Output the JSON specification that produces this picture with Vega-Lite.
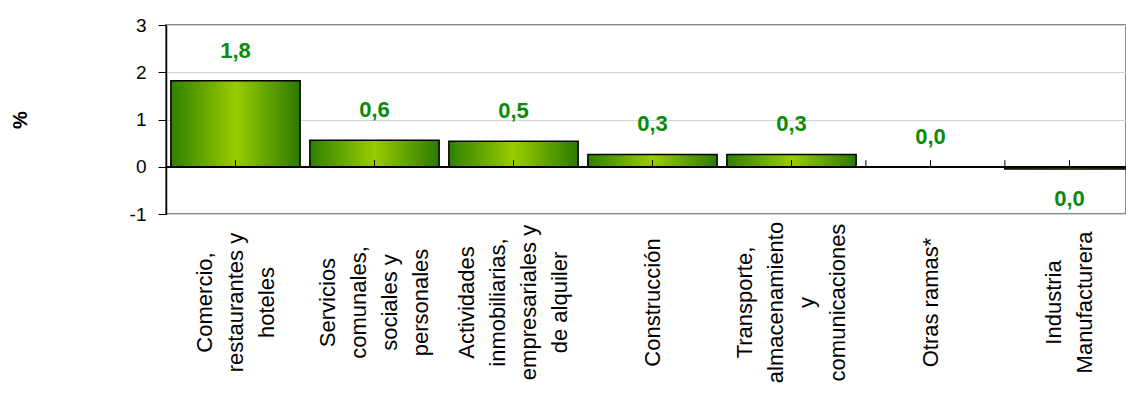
{
  "$schema": "https://vega.github.io/schema/vega-lite/v6.json",
  "width": 960,
  "height": 189,
  "autosize": {"type": "none"},
  "padding": {"left": 166, "top": 25, "right": 0, "bottom": 182},
  "background": "white",
  "config": {
    "font": "Liberation Sans",
    "view": {"stroke": "#888888", "strokeWidth": 2}
  },
  "data": {
    "values": [
      {"rama": "Comercio,\nrestaurantes y\nhoteles", "valor": 1.82, "etiqueta": "1,8"},
      {"rama": "Servicios\ncomunales,\nsociales y\npersonales", "valor": 0.56, "etiqueta": "0,6"},
      {"rama": "Actividades\ninmobiliarias,\nempresariales y\nde alquiler", "valor": 0.54, "etiqueta": "0,5"},
      {"rama": "Construcción", "valor": 0.26, "etiqueta": "0,3"},
      {"rama": "Transporte,\nalmacenamiento\ny\ncomunicaciones", "valor": 0.26, "etiqueta": "0,3"},
      {"rama": "Otras ramas*", "valor": 0, "etiqueta": "0,0"},
      {"rama": "Industria\nManufacturera", "valor": -0.05, "etiqueta": "0,0"}
    ]
  },
  "encoding": {
    "x": {
      "field": "rama",
      "type": "nominal",
      "sort": null,
      "scale": {"range": [0, 973], "paddingInner": 0.07, "paddingOuter": 0.035},
      "axis": {
        "title": null,
        "domain": false,
        "ticks": false,
        "tickSize": 0,
        "grid": false,
        "labelAngle": -90,
        "labelAlign": "center",
        "labelBaseline": "middle",
        "labelPadding": 88,
        "labelFontSize": 22,
        "labelColor": "black",
        "labelLineHeight": 31,
        "labelLimit": 400,
        "labelOverlap": false,
        "labelBound": false,
        "labelFlush": false,
        "labelOffset": {
          "condition": [
            {"test": "indexof(datum.value, 'Comercio') >= 0", "value": -31},
            {"test": "indexof(datum.value, 'Servicios') >= 0 || indexof(datum.value, 'Actividades') >= 0 || indexof(datum.value, 'Transporte') >= 0", "value": -46.5},
            {"test": "indexof(datum.value, 'Industria') >= 0", "value": -15.5}
          ],
          "value": 0
        },
        "labelExpr": "split(datum.label, '\\n')"
      }
    }
  },
  "layer": [
    {
      "mark": {
        "type": "bar",
        "stroke": "black",
        "strokeWidth": 1.5,
        "color": {
          "gradient": "linear",
          "x1": 0, "x2": 1, "y1": 0, "y2": 0,
          "stops": [
            {"offset": 0, "color": "#2f8000"},
            {"offset": 0.5, "color": "#99cc00"},
            {"offset": 1, "color": "#2a7a00"}
          ]
        }
      },
      "encoding": {
        "y": {
          "field": "valor",
          "type": "quantitative",
          "scale": {"domain": [-1, 3], "nice": false, "zero": false},
          "axis": {
            "title": "%",
            "titleFontSize": 20,
            "titleFontWeight": "bold",
            "titleColor": "black",
            "titleX": -136,
            "titleAngle": -90,
            "values": [-1, 0, 1, 2, 3],
            "labelExpr": "datum.value < 0 ? '-' + abs(datum.value) : datum.label",
            "labelFontSize": 19,
            "labelColor": "black",
            "labelPadding": 12,
            "tickSize": 8,
            "tickColor": "black",
            "domainColor": "black",
            "domainWidth": 1.5,
            "gridColor": "#d4d4d4",
            "gridWidth": 1
          }
        }
      }
    },
    {
      "mark": {"type": "rule", "color": "black", "strokeWidth": 1.5},
      "encoding": {
        "x": null,
        "y": {"datum": 0, "type": "quantitative"}
      }
    },
    {
      "mark": {"type": "rule", "color": "black", "strokeWidth": 1},
      "encoding": {
        "y": {"datum": 0, "type": "quantitative"},
        "y2": {"datum": 0.14}
      }
    },
    {
      "mark": {"type": "rule", "color": "black", "strokeWidth": 1},
      "encoding": {
        "x": {"field": "rama", "type": "nominal", "sort": null, "bandPosition": 0},
        "y": {"datum": 0, "type": "quantitative"},
        "y2": {"datum": 0.14}
      }
    },
    {
      "transform": [{"filter": "datum.valor >= 0"}],
      "mark": {"type": "text", "fontSize": 22, "fontWeight": "bold", "color": "#0a8a0a", "baseline": "middle", "dy": -30},
      "encoding": {
        "y": {"field": "valor", "type": "quantitative"},
        "text": {"field": "etiqueta"}
      }
    },
    {
      "transform": [{"filter": "datum.valor < 0"}],
      "mark": {"type": "text", "fontSize": 22, "fontWeight": "bold", "color": "#0a8a0a", "baseline": "middle", "dy": 30},
      "encoding": {
        "y": {"field": "valor", "type": "quantitative"},
        "text": {"field": "etiqueta"}
      }
    }
  ]
}
